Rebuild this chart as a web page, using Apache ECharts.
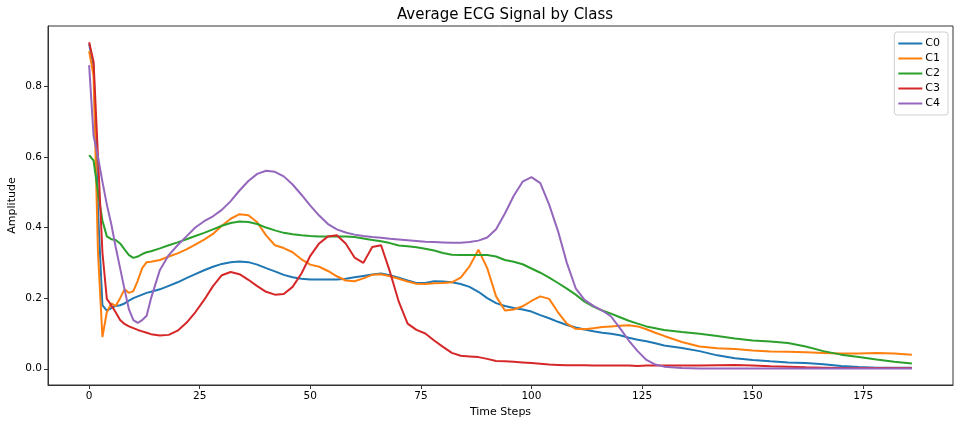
<!DOCTYPE html>
<html>
<head>
<meta charset="utf-8">
<script src="https://cdn.jsdelivr.net/npm/echarts@6/dist/echarts.min.js"></script>
<style>html,body{margin:0;padding:0;background:#fff}#c{width:960px;height:427px}</style>
</head>
<body>
<div id="c"></div>
<script>
// time steps at which values were read
const steps = [0,1,2,3,4,5,6,7,8,9,10,11,12,13,14,
16,18,20,22,24,26,28,30,32,34,36,38,40,42,44,46,48,50,52,54,56,58,60,62,64,66,68,70,72,74,76,78,80,82,84,86,88,90,92,94,96,98,100,102,104,106,108,110,112,114,116,118,120,122,124,126,128,130,
134,138,142,146,150,154,158,162,166,170,174,178,182,186];

const classNames = ['C0','C1','C2','C3','C4'];

const c0 = [0.92,0.86,0.45,0.18,0.165,0.172,0.178,0.18,0.185,0.193,0.2,0.205,0.21,0.215,0.218,
0.225,0.235,0.245,0.257,0.268,0.279,0.289,0.297,0.302,0.304,0.302,0.295,0.285,0.276,0.266,0.259,0.255,0.253,0.253,0.253,0.253,0.255,0.259,0.263,0.267,0.27,0.265,0.258,0.25,0.243,0.243,0.248,0.247,0.245,0.24,0.232,0.218,0.2,0.186,0.178,0.172,0.168,0.162,0.152,0.143,0.133,0.124,0.117,0.111,0.106,0.102,0.099,0.095,0.088,0.082,0.078,0.072,0.066,
0.059,0.05,0.038,0.03,0.025,0.021,0.018,0.016,0.013,0.008,0.005,0.003,0.003,0.003];

const c1 = [0.90,0.83,0.33,0.09,0.16,0.185,0.178,0.2,0.225,0.215,0.22,0.25,0.285,0.302,0.303,
0.308,0.318,0.327,0.338,0.352,0.366,0.382,0.405,0.425,0.438,0.435,0.415,0.378,0.35,0.342,0.33,0.31,0.295,0.289,0.277,0.262,0.25,0.248,0.256,0.266,0.268,0.262,0.255,0.247,0.241,0.24,0.242,0.243,0.245,0.258,0.29,0.337,0.285,0.205,0.165,0.168,0.177,0.192,0.205,0.198,0.16,0.128,0.113,0.112,0.115,0.118,0.12,0.122,0.123,0.12,0.112,0.102,0.093,
0.076,0.063,0.058,0.056,0.052,0.049,0.048,0.047,0.045,0.043,0.043,0.045,0.043,0.04];

const c2 = [0.605,0.59,0.5,0.42,0.375,0.367,0.365,0.355,0.338,0.322,0.314,0.318,0.325,0.33,0.333,
0.341,0.35,0.358,0.367,0.376,0.385,0.395,0.405,0.413,0.417,0.416,0.41,0.4,0.392,0.385,0.381,0.378,0.376,0.375,0.375,0.375,0.375,0.373,0.369,0.365,0.361,0.356,0.349,0.347,0.344,0.34,0.335,0.328,0.323,0.322,0.322,0.322,0.322,0.318,0.308,0.303,0.296,0.284,0.272,0.258,0.243,0.227,0.21,0.19,0.176,0.165,0.156,0.146,0.136,0.128,0.12,0.115,0.11,
0.104,0.099,0.093,0.086,0.08,0.077,0.073,0.063,0.05,0.04,0.033,0.026,0.02,0.015];

const c3 = [0.925,0.87,0.6,0.33,0.198,0.18,0.16,0.138,0.127,0.12,0.115,0.11,0.106,0.102,0.098,
0.094,0.096,0.108,0.13,0.16,0.195,0.234,0.265,0.274,0.268,0.252,0.234,0.218,0.21,0.212,0.232,0.27,0.32,0.355,0.375,0.378,0.355,0.315,0.3,0.345,0.35,0.275,0.19,0.128,0.11,0.1,0.08,0.062,0.045,0.037,0.035,0.033,0.028,0.022,0.021,0.02,0.018,0.016,0.014,0.012,0.011,0.01,0.01,0.01,0.009,0.009,0.009,0.009,0.009,0.008,0.009,0.009,0.009,
0.009,0.009,0.01,0.011,0.009,0.007,0.006,0.004,0.003,0.002,0.002,0.002,0.002,0.002];

const c4 = [0.86,0.66,0.6,0.53,0.465,0.41,0.345,0.285,0.225,0.168,0.138,0.13,0.138,0.15,0.2,
0.28,0.322,0.35,0.375,0.4,0.418,0.432,0.45,0.475,0.505,0.532,0.552,0.561,0.558,0.545,0.522,0.493,0.462,0.434,0.41,0.395,0.386,0.38,0.376,0.373,0.371,0.368,0.366,0.364,0.362,0.36,0.359,0.358,0.357,0.357,0.359,0.363,0.372,0.395,0.44,0.49,0.53,0.543,0.526,0.465,0.39,0.3,0.228,0.195,0.178,0.165,0.148,0.115,0.08,0.05,0.025,0.012,0.006,
0.002,0.001,0.001,0.001,0.001,0.001,0.001,0.001,0.001,0.001,0.001,0.001,0.001,0.001];

const xTicks = [0,25,50,75,100,125,150,175];
const yTicks = [0.0,0.2,0.4,0.6,0.8];

const colors = ['#1f77b4','#ff7f0e','#2ca02c','#d62728','#9467bd'];
const allValues = [c0,c1,c2,c3,c4];

const font = 'DejaVu Sans';
const chart = echarts.init(document.getElementById('c'), null, {renderer:'canvas'});
chart.setOption({
  animation: false,
  backgroundColor: '#fff',
  color: colors,
  title: {
    text: 'Average ECG Signal by Class',
    left: 500, top: 3, textAlign: 'center',
    textStyle: {fontFamily: font, fontSize: 15, fontWeight: 'normal', color: '#000'}
  },
  legend: {
    orient: 'vertical', right: 12, top: 32,
    data: classNames,
    icon: 'rect', itemWidth: 24, itemHeight: 2, itemGap: 4,
    padding: [6, 8, 6, 4],
    borderColor: '#d0d0d0', borderWidth: 1, borderRadius: 3,
    backgroundColor: 'rgba(255,255,255,0.8)',
    textStyle: {fontFamily: font, fontSize: 11, color: '#000', padding: [0,0,0,-2]}
  },
  grid: {left: 48, right: 7, top: 26, bottom: 42, show: true, borderColor: '#333', borderWidth: 1,
    containLabel: false, outerBoundsMode: 'none'},
  xAxis: {
    type: 'value', min: -9.3, max: 195.3,
    name: 'Time Steps', nameLocation: 'middle', nameGap: 22,
    nameTextStyle: {fontFamily: font, fontSize: 11, color: '#000'},
    axisLine: {show: true, onZero: false, lineStyle: {color: '#333', width: 1}},
    axisTick: {show: true, inside: false, length: 4, customValues: xTicks, lineStyle: {color: '#333'}},
    axisLabel: {customValues: xTicks, margin: 6, fontFamily: font, fontSize: 10.5, color: '#000'},
    splitLine: {show: false}
  },
  yAxis: {
    type: 'value', min: -0.046, max: 0.971,
    name: 'Amplitude', nameLocation: 'middle', nameGap: 30, nameMoveOverlap: false,
    nameTextStyle: {fontFamily: font, fontSize: 11, color: '#000'},
    axisLine: {show: true, onZero: false, lineStyle: {color: '#333', width: 1}},
    axisTick: {show: true, inside: false, length: 4, customValues: yTicks, lineStyle: {color: '#333'}},
    axisLabel: {customValues: yTicks, margin: 6, fontFamily: font, fontSize: 10.5, color: '#000',
      formatter: v => v.toFixed(1)},
    splitLine: {show: false}
  },
  series: classNames.map((n, i) => ({
    name: n, type: 'line', symbol: 'none', smooth: false,
    lineStyle: {width: 2, color: colors[i]},
    itemStyle: {color: colors[i]},
    data: steps.map((s, k) => [s, allValues[i][k]])
  }))
});
</script>
</body>
</html>
